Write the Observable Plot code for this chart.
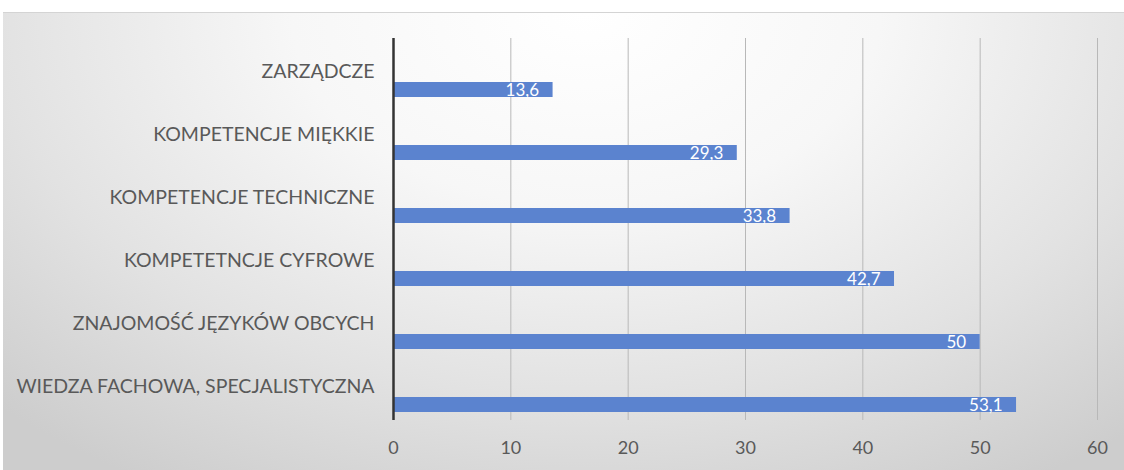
<!DOCTYPE html>
<html>
<head>
<meta charset="utf-8">
<script src="https://cdn.jsdelivr.net/npm/d3@7"></script>
<script src="https://cdn.jsdelivr.net/npm/@observablehq/plot@0.6"></script>
<style>
  html, body { margin: 0; padding: 0; background: #fff; width: 1124px; height: 470px; overflow: hidden; }
  #bg { position: absolute; left: 3px; top: 12px; width: 1121px; height: 458px;
        border-top: 1px solid #d4d4d4;
        background: radial-gradient(ellipse 75% 120% at 52% 0%, #ffffff 0%, #f7f7f7 35%, #e2e2e2 70%, #cdcdcd 100%); }
  #chart { position: absolute; left: 0; top: 0; }
</style>
</head>
<body>
<div id="bg"></div>
<div id="chart"></div>
<script>
const categories = [
  "ZARZĄDCZE",
  "KOMPETENCJE MIĘKKIE",
  "KOMPETENCJE TECHNICZNE",
  "KOMPETETNCJE CYFROWE",
  "ZNAJOMOŚĆ JĘZYKÓW OBCYCH",
  "WIEDZA FACHOWA, SPECJALISTYCZNA"
];
const values = [13.6, 29.3, 33.8, 42.7, 50, 53.1];
const xTicks = [0, 10, 20, 30, 40, 50, 60];
const gridTicks = [10, 20, 30, 40, 50, 60];

const data = categories.map((c, i) => ({category: c, value: values[i]}));
const fmt = v => String(v).replace(".", ",");
const font = "Lato, sans-serif";

const chart = Plot.plot({
  width: 1124,
  height: 470,
  marginLeft: 393,
  marginRight: 27,
  marginTop: 38,
  marginBottom: 50,
  style: {background: "transparent", fontFamily: font, fontSize: "17px", color: "#595959"},
  x: {domain: [0, 60], ticks: xTicks, label: null},
  y: {domain: categories, padding: 0, axis: null},
  marks: [
    Plot.ruleX(gridTicks, {stroke: "#b8b8b8", strokeWidth: 1}),
    Plot.barX(data, {x: "value", y: "category", fill: "#5b83cf", insetTop: 42, insetBottom: 6}),
    Plot.text(data, {x: "value", y: "category", text: d => fmt(d.value), fill: "#ffffff",
      textAnchor: "end", dx: -14, dy: 19, fontSize: 17, fontFamily: font}),
    Plot.text(data, {x: 0, y: "category", text: "category", textAnchor: "end", dx: -19,
      fill: "#595959", fontSize: 19.5, fontFamily: font}),
    Plot.ruleX([0], {stroke: "#333333", strokeWidth: 2.5}),
    Plot.axisX({ticks: xTicks, tickSize: 0, tickPadding: 21, fontSize: 18, fill: "#595959", label: null, tickFormat: d => String(d)})
  ]
});
document.getElementById("chart").appendChild(chart);
</script>
</body>
</html>
